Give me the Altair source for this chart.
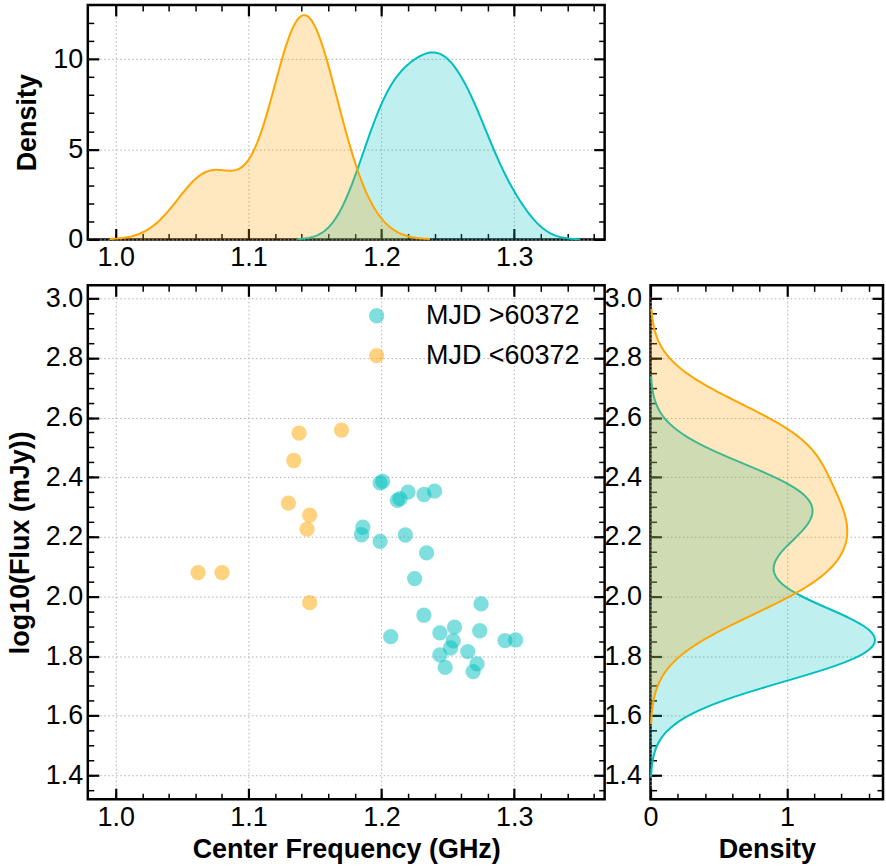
import altair as alt
import numpy as np
import pandas as pd

FONT = "Liberation Sans"
CYAN = "#00BFBF"
ORANGE = "#FFA500"
NEW_LABEL = "MJD >60372"
OLD_LABEL = "MJD <60372"

# ---- data ----
new_freq = [1.199, 1.201, 1.212, 1.214, 1.220, 1.232, 1.240, 1.186, 1.185, 1.199,
            1.218, 1.234, 1.225, 1.275, 1.232, 1.207, 1.244, 1.255, 1.274, 1.254,
            1.252, 1.265, 1.293, 1.301, 1.244, 1.248, 1.272, 1.269]
new_flux = [2.381, 2.386, 2.322, 2.328, 2.350, 2.342, 2.353, 2.232, 2.207, 2.185,
            2.206, 2.146, 2.060, 1.975, 1.937, 1.865, 1.878, 1.897, 1.885, 1.851,
            1.827, 1.815, 1.852, 1.854, 1.804, 1.762, 1.774, 1.748]
old_freq = [1.062, 1.080, 1.138, 1.170, 1.134, 1.130, 1.146, 1.144, 1.146]
old_flux = [2.080, 2.080, 2.548, 2.558, 2.456, 2.313, 2.273, 2.226, 1.979]

freq_major = [1.0, 1.1, 1.2, 1.3]
freq_minor = [1.0, 1.02, 1.04, 1.06, 1.08, 1.1, 1.12, 1.14, 1.16, 1.18, 1.2,
              1.22, 1.24, 1.26, 1.28, 1.3, 1.32, 1.34, 1.36]
flux_major = [1.4, 1.6, 1.8, 2.0, 2.2, 2.4, 2.6, 2.8, 3.0]
flux_minor = [1.35, 1.4, 1.45, 1.5, 1.55, 1.6, 1.65, 1.7, 1.75, 1.8, 1.85, 1.9,
              1.95, 2.0, 2.05, 2.1, 2.15, 2.2, 2.25, 2.3, 2.35, 2.4, 2.45, 2.5,
              2.55, 2.6, 2.65, 2.7, 2.75, 2.8, 2.85, 2.9, 2.95, 3.0]
top_dens_major = [0, 5, 10]
top_dens_minor = [1, 2, 3, 4, 6, 7, 8, 9, 11, 12]
right_dens_major = [0, 1]
right_dens_minor = [0.2, 0.4, 0.6, 0.8, 1.2, 1.4, 1.6]

scatter_df = pd.DataFrame({
    "freq": new_freq + old_freq,
    "flux": new_flux + old_flux,
    "group": [NEW_LABEL] * len(new_freq) + [OLD_LABEL] * len(old_freq),
})
new_df = pd.DataFrame({"freq": new_freq, "flux": new_flux})
old_df = pd.DataFrame({"freq": old_freq, "flux": old_flux})


def scott_bw(v):
    v = np.asarray(v, dtype=float)
    return float(np.std(v, ddof=1) * len(v) ** (-0.2))


def kde_base(df, field):
    bw = scott_bw(df[field])
    lo = float(df[field].min()) - 3 * bw
    hi = float(df[field].max()) + 3 * bw
    return alt.Chart(df).transform_density(
        field, as_=[field, "density"], bandwidth=bw, extent=[lo, hi], steps=200)


# ---- scales ----
xs_freq = alt.Scale(domain=[0.979, 1.368], nice=False, zero=False)
ys_flux = alt.Scale(domain=[1.32, 3.0435], nice=False, zero=False)
ys_top = alt.Scale(domain=[0, 13.0], nice=False, zero=False)
xs_right = alt.Scale(domain=[0, 1.705], nice=False, zero=False)

MAJ_LEN, MIN_LEN = 11, 6


def label_axis(orient, values, fmt, title, pad, **kw):
    return alt.Axis(orient=orient, values=values, format=fmt, title=title,
                    labelPadding=pad, ticks=False, domain=False, grid=True,
                    gridColor="#b0b0b0", gridDash=[1.5, 2.5], gridWidth=1,
                    labelFlush=False, labelOverlap=False, **kw)


def tick_axis(orient, values, length, width):
    return alt.Axis(orient=orient, values=values, offset=-length, tickSize=length,
                    tickWidth=width, labels=False, domain=False, grid=False,
                    title=None, ticks=True)


def tick_set(o1, o2, major, minor):
    return [tick_axis(o1, major, MAJ_LEN, 2.2), tick_axis(o1, minor, MIN_LEN, 1.5),
            tick_axis(o2, major, MAJ_LEN, 2.2), tick_axis(o2, minor, MIN_LEN, 1.5)]


# ---- main scatter ----
main_pts = alt.Chart(scatter_df).mark_circle(size=235, opacity=0.5).encode(
    x=alt.X("freq:Q", scale=xs_freq,
            axis=label_axis("bottom", freq_major, ".1f", "Center Frequency (GHz)", 5,
                            titlePadding=6)),
    y=alt.Y("flux:Q", scale=ys_flux,
            axis=label_axis("left", flux_major, ".1f", "log10(Flux (mJy))", 5,
                            titlePadding=11)),
    color=alt.Color("group:N",
                    scale=alt.Scale(domain=[NEW_LABEL, OLD_LABEL], range=[CYAN, ORANGE]),
                    legend=alt.Legend(title=None, orient="none", legendX=276, legendY=298,
                                      labelFont=FONT, labelFontSize=27, labelColor="black",
                                      symbolSize=235, symbolOpacity=0.5, symbolStrokeWidth=0,
                                      symbolType="circle", labelOffset=36, rowPadding=12,
                                      padding=0)),
)
main_dummies = [
    alt.Chart(scatter_df).mark_circle(opacity=0).encode(
        x=alt.X("freq:Q", scale=xs_freq, axis=xa),
        y=alt.Y("flux:Q", scale=ys_flux, axis=ya))
    for xa, ya in zip(tick_set("bottom", "top", freq_major, freq_minor),
                      tick_set("left", "right", flux_major, flux_minor))
]
main = alt.layer(main_pts, *main_dummies).resolve_axis(
    x="independent", y="independent").properties(width=518, height=515)

# ---- top marginal (frequency density) ----
top_new = kde_base(new_df, "freq")
top_old = kde_base(old_df, "freq")
top_layers = [
    top_new.mark_area(color=CYAN, opacity=0.25).encode(
        x=alt.X("freq:Q", scale=xs_freq,
                axis=label_axis("bottom", freq_major, ".1f", None, 5)),
        y=alt.Y("density:Q", scale=ys_top,
                axis=label_axis("left", top_dens_major, "d", "Density", 5,
                                titlePadding=11))),
    top_new.mark_line(color=CYAN, strokeWidth=2).encode(
        x=alt.X("freq:Q", scale=xs_freq, axis=None),
        y=alt.Y("density:Q", scale=ys_top, axis=None)),
    top_old.mark_area(color=ORANGE, opacity=0.25).encode(
        x=alt.X("freq:Q", scale=xs_freq, axis=None),
        y=alt.Y("density:Q", scale=ys_top, axis=None)),
    top_old.mark_line(color=ORANGE, strokeWidth=2).encode(
        x=alt.X("freq:Q", scale=xs_freq, axis=None),
        y=alt.Y("density:Q", scale=ys_top, axis=None)),
]
top_dummies = [
    top_new.mark_line(opacity=0).encode(
        x=alt.X("freq:Q", scale=xs_freq, axis=xa),
        y=alt.Y("density:Q", scale=ys_top, axis=ya))
    for xa, ya in zip(tick_set("bottom", "top", freq_major, freq_minor),
                      tick_set("left", "right", top_dens_major, top_dens_minor))
]
top = alt.layer(*top_layers, *top_dummies).resolve_axis(
    x="independent", y="independent").properties(width=518, height=235)

# ---- right marginal (flux density) ----
r_new = kde_base(new_df, "flux")
r_old = kde_base(old_df, "flux")
right_layers = [
    r_new.mark_area(color=CYAN, opacity=0.25, orient="horizontal").encode(
        x=alt.X("density:Q", scale=xs_right, stack=None,
                axis=label_axis("bottom", right_dens_major, "d", "Density", 5,
                                titlePadding=6)),
        y=alt.Y("flux:Q", scale=ys_flux,
                axis=label_axis("left", flux_major, ".1f", None, 9))),
    r_new.mark_line(color=CYAN, strokeWidth=2).encode(
        x=alt.X("density:Q", scale=xs_right, axis=None),
        y=alt.Y("flux:Q", scale=ys_flux, axis=None),
        order="flux:Q"),
    r_old.mark_area(color=ORANGE, opacity=0.25, orient="horizontal").encode(
        x=alt.X("density:Q", scale=xs_right, stack=None, axis=None),
        y=alt.Y("flux:Q", scale=ys_flux, axis=None)),
    r_old.mark_line(color=ORANGE, strokeWidth=2).encode(
        x=alt.X("density:Q", scale=xs_right, axis=None),
        y=alt.Y("flux:Q", scale=ys_flux, axis=None),
        order="flux:Q"),
]
right_dummies = [
    r_new.mark_line(opacity=0).encode(
        x=alt.X("density:Q", scale=xs_right, axis=xa),
        y=alt.Y("flux:Q", scale=ys_flux, axis=ya),
        order="flux:Q")
    for xa, ya in zip(tick_set("bottom", "top", right_dens_major, right_dens_minor),
                      tick_set("left", "right", flux_major, flux_minor))
]
right = alt.layer(*right_layers, *right_dummies).resolve_axis(
    x="independent", y="independent").properties(width=233, height=515)

bottom = alt.hconcat(main, right, spacing=46, bounds="flush")
chart = alt.vconcat(top, bottom, spacing=46, bounds="flush").properties(
    padding={"left": 5, "top": 1, "right": 0, "bottom": 2},
    background="white",
).configure_view(
    stroke="black", strokeWidth=2.5
).configure_axis(
    labelFont=FONT, labelFontSize=27, labelColor="black",
    titleFont=FONT, titleFontSize=27, titleFontWeight="bold", titleColor="black",
    tickColor="black",
)

chart.save("out.html", embed_options={"renderer": "svg", "actions": False})
